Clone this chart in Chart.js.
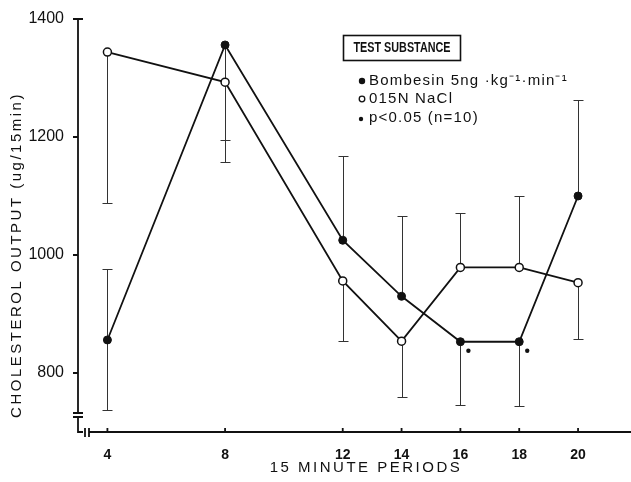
<!DOCTYPE html>
<html>
<head>
<meta charset="utf-8">
<script src="https://cdn.jsdelivr.net/npm/chart.js@4"></script>
<style>
  body { margin: 0; background: #fff; }
  #wrap { width: 631px; height: 482px; }
</style>
</head>
<body>
<div id="wrap"><canvas id="chart" width="631" height="482"></canvas></div>
<script>
// values
const periods = [4, 8, 12, 14, 16, 18, 20];
const bombesinMean = [856, 1356, 1025, 930, 853, 853, 1100];
const bombesinUpper = [976, null, 1168, 1066, null, null, 1262];
const bombesinLower = [738, 1157, null, null, 745, 744, null];
const salineMean = [1344, 1293, 956, 854, 979, 979, 953];
const salineUpper = [null, null, null, null, 1072, 1100, null];
const salineLower = [1088, 1195, 854, 759, null, null, 858];
const sigPeriods = [16, 18];
const xTicks = [4, 8, 12, 14, 16, 18, 20];
const yTicks = [800, 1000, 1200, 1400];

const INK = '#111';
const FONT = '"Liberation Sans", Arial, sans-serif';

function toPoints(xs, ys) {
    return xs.map((x, i) => ({ x: x, y: ys[i] }));
}

// axes with the break marks, error bars
const axesPlugin = {
    id: 'axesPlugin',
    beforeDatasetsDraw(chart) {
        const ctx = chart.ctx;
        const a = chart.chartArea;
        const xs = chart.scales.x, ys = chart.scales.y;
        ctx.save();
        ctx.strokeStyle = INK;
        ctx.lineWidth = 1.8;
        ctx.beginPath();
        // y axis
        ctx.moveTo(a.left, a.top);
        ctx.lineTo(a.left, a.bottom - 19);
        ctx.moveTo(a.left, a.top);
        ctx.lineTo(a.left + 5, a.top);
        yTicks.forEach(v => {
            const y = ys.getPixelForValue(v);
            ctx.moveTo(a.left - 5, y);
            ctx.lineTo(a.left, y);
        });
        // y break
        ctx.moveTo(a.left - 5, a.bottom - 19);
        ctx.lineTo(a.left + 5, a.bottom - 19);
        ctx.moveTo(a.left - 5, a.bottom - 15);
        ctx.lineTo(a.left + 5, a.bottom - 15);
        ctx.moveTo(a.left, a.bottom - 15);
        ctx.lineTo(a.left, a.bottom);
        ctx.lineTo(a.left + 5, a.bottom);
        // x break
        ctx.moveTo(a.left + 7, a.bottom - 4);
        ctx.lineTo(a.left + 7, a.bottom + 5);
        ctx.moveTo(a.left + 11, a.bottom - 4);
        ctx.lineTo(a.left + 11, a.bottom + 5);
        // x axis
        ctx.moveTo(a.left + 11, a.bottom);
        ctx.lineTo(chart.width, a.bottom);
        xTicks.forEach(v => {
            const x = xs.getPixelForValue(v);
            ctx.moveTo(x, a.bottom);
            ctx.lineTo(x, a.bottom - 4);
        });
        ctx.stroke();

        // error bars
        ctx.strokeStyle = '#333';
        ctx.lineWidth = 1;
        const bars = [
            [bombesinMean, bombesinUpper, bombesinLower],
            [salineMean, salineUpper, salineLower]
        ];
        bars.forEach(([mean, up, lo]) => {
            periods.forEach((p, i) => {
                const x = Math.round(xs.getPixelForValue(p)) + 0.5;
                const ym = ys.getPixelForValue(mean[i]);
                [up[i], lo[i]].forEach(v => {
                    if (v === null) return;
                    const y = Math.round(ys.getPixelForValue(v)) + 0.5;
                    ctx.beginPath();
                    ctx.moveTo(x, ym);
                    ctx.lineTo(x, y);
                    ctx.moveTo(x - 5, y);
                    ctx.lineTo(x + 5, y);
                    ctx.stroke();
                });
            });
        });
        ctx.restore();
    },
    afterDraw(chart) {
        const ctx = chart.ctx;
        const xs = chart.scales.x, ys = chart.scales.y;
        ctx.save();
        ctx.fillStyle = INK;

        // significance stars
        sigPeriods.forEach(p => {
            const i = periods.indexOf(p);
            const x = xs.getPixelForValue(p) + 8;
            const y = ys.getPixelForValue(bombesinMean[i]) + 9;
            ctx.beginPath();
            ctx.arc(x, y, 2.2, 0, Math.PI * 2);
            ctx.fill();
        });

        // axis titles
        ctx.letterSpacing = '2.5px';
        ctx.font = '15px ' + FONT;
        ctx.textAlign = 'center';
        ctx.textBaseline = 'middle';
        ctx.fillText('15 MINUTE PERIODS', 366, 468);
        ctx.save();
        ctx.translate(17, 255);
        ctx.rotate(-Math.PI / 2);
        ctx.fillText('CHOLESTEROL OUTPUT (ug/15min)', 0, 0);
        ctx.restore();

        // legend
        ctx.strokeStyle = INK;
        ctx.lineWidth = 1.6;
        ctx.strokeRect(343.5, 35.5, 117, 25);
        ctx.letterSpacing = '0px';
        ctx.font = 'bold 14px ' + FONT;
        const head = 'TEST SUBSTANCE';
        const sx = 97 / ctx.measureText(head).width;
        ctx.save();
        ctx.translate(402, 48.5);
        ctx.scale(sx, 1);
        ctx.fillText(head, 0, 0);
        ctx.restore();

        ctx.textAlign = 'left';
        ctx.letterSpacing = '1.2px';
        ctx.font = '15px ' + FONT;
        ctx.fillText('Bombesin 5ng \u00b7kg\u207b\u00b9\u00b7min\u207b\u00b9', 369, 81);
        ctx.fillText('015N NaCl', 369, 99);
        ctx.fillText('p<0.05 (n=10)', 369, 118);

        ctx.beginPath();
        ctx.arc(362, 81, 3.2, 0, Math.PI * 2);
        ctx.fill();
        ctx.beginPath();
        ctx.arc(362, 99, 2.8, 0, Math.PI * 2);
        ctx.lineWidth = 1.3;
        ctx.stroke();
        ctx.beginPath();
        ctx.arc(361, 119, 2.2, 0, Math.PI * 2);
        ctx.fill();
        ctx.restore();
    }
};

new Chart(document.getElementById('chart'), {
    type: 'line',
    data: {
        datasets: [{
            label: 'Bombesin',
            data: toPoints(periods, bombesinMean),
            borderColor: INK,
            borderWidth: 1.8,
            tension: 0,
            pointRadius: 4,
            pointBackgroundColor: INK,
            pointBorderColor: INK,
            pointBorderWidth: 1
        }, {
            label: 'NaCl',
            data: toPoints(periods, salineMean),
            borderColor: INK,
            borderWidth: 1.8,
            tension: 0,
            pointRadius: 4,
            pointBackgroundColor: '#fff',
            pointBorderColor: INK,
            pointBorderWidth: 1.5
        }]
    },
    options: {
        responsive: false,
        animation: false,
        layout: { autoPadding: false, padding: { top: 19, right: 0, left: 0, bottom: 0 } },
        plugins: {
            legend: { display: false },
            tooltip: { enabled: false }
        },
        scales: {
            x: {
                type: 'linear',
                min: 3.0,
                max: 21.8,
                grid: { display: false },
                border: { display: false },
                afterBuildTicks: scale => { scale.ticks = xTicks.map(v => ({ value: v })); },
                afterFit: scale => { scale.height = 50; },
                ticks: {
                    padding: 7,
                    color: INK,
                    maxRotation: 0,
                    callback: v => String(v),
                    font: { family: FONT, size: 14, weight: 'bold' }
                }
            },
            y: {
                min: 700,
                max: 1400,
                grid: { display: false },
                border: { display: false },
                afterBuildTicks: scale => { scale.ticks = yTicks.map(v => ({ value: v })); },
                afterFit: scale => { scale.width = 78; },
                ticks: {
                    padding: 6,
                    color: INK,
                    callback: v => String(v),
                    font: { family: FONT, size: 16 }
                }
            }
        }
    },
    plugins: [axesPlugin]
});
</script>
</body>
</html>
